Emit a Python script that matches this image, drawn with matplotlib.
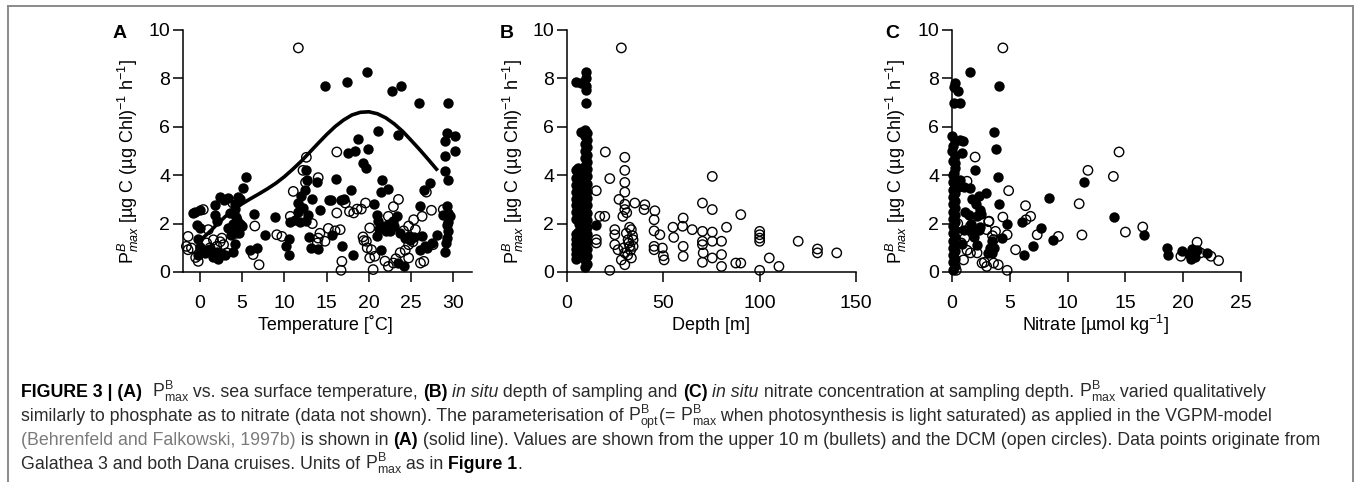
import matplotlib
matplotlib.use('Agg')
import matplotlib.pyplot as plt
from matplotlib import font_manager
from matplotlib.lines import Line2D

# ---------------- data ----------------
# Panel A: temperature (deg C) vs PBmax
temp_top = [14.8, 17.4, 19.8, 22.7, 23.8, 25.9, 29.4, 21.1, 23.4, 18.75, 17.5, 18.4, 19.9, 19.3, 19.6,
            12.6, 12.7, 13.9, 16.1, 17.9, 17.0, 15.5, 21.5, 21.4, 22.3, 14.2, 12.4, 12.0, 13.3, 11.6,
            12.2, 11.6, 12.8, 11.2, 10.7, 11.8, 12.6, 10.5, 10.2, 10.6, 12.9, 13.2, 14.0, 8.9, 7.7,
            6.4, 5.9, 6.8, 15.6, 16.8, 18.1, 20.6, 20.9, 21.1, 21.2, 20.9, 21.4, 21.9, 22.5, 22.9,
            23.3, 23.7, 24.3, 24.9, 25.3, 23.5, 24.1, 26.1, 26.5, 27.2, 26.3, 26.6, 26.1, 26.9, 28.0,
            28.8, 29.0, 29.0, 29.4, 29.3, 29.6, 29.0, 29.3, 30.2, 30.2, 29.3, 29.3, 29.0,
            5.4, 5.1, 4.5, 2.4, 2.9, 1.8, -0.6, 0.0, -0.4, 0.0, 1.8, 2.0, 3.55, 4.1, 4.3, 3.9, 3.3,
            4.3, 3.7, 4.1, 3.9, -0.2, 0.0, -0.2, 1.2, 2.0, 2.2, 3.0, 4.8, 4.6, 4.7, 4.2, 1.5, 2.6,
            0.6, 3.3, 4.4, 5.0, -0.8, 1.0, 22.4, 23.0, 24.8, 27.5, 29.4, 29.4, 29.4, 29.1, 15.3, 16.7, 22.0]
pmax_top = [7.67, 7.84, 8.25, 7.49, 7.70, 7.00, 7.00, 5.81, 5.65, 5.50, 4.92, 5.00, 5.10, 4.50, 4.30,
            4.23, 3.80, 3.70, 3.84, 3.37, 3.00, 2.96, 3.82, 3.30, 3.43, 2.55, 3.37, 3.13, 3.00, 2.85,
            2.64, 2.50, 2.37, 2.16, 2.05, 2.05, 2.10, 1.36, 1.09, 0.72, 1.43, 0.99, 0.95, 2.27, 1.54,
            2.40, 0.92, 0.99, 1.54, 1.06, 0.72, 2.82, 2.37, 2.10, 1.78, 1.47, 0.92, 1.89, 1.68, 2.10,
            2.30, 1.61, 1.40, 1.34, 1.45, 0.37, 0.23, 2.71, 3.37, 3.68, 1.47, 1.06, 0.92, 0.99, 1.54,
            2.37, 4.78, 4.16, 3.82, 2.71, 2.33, 5.40, 5.74, 5.63, 4.99, 1.96, 1.40, 0.83,
            3.94, 3.46, 3.09, 3.09, 2.97, 2.77, 2.49, 2.58, 1.94, 1.80, 2.36, 2.09, 2.42, 2.62, 2.29, 2.00, 1.80,
            1.85, 1.51, 1.17, 0.83, 1.38, 1.03, 0.69, 0.96, 0.83, 0.55, 0.69, 2.00, 1.60, 3.00, 2.80, 0.60, 0.75,
            0.80, 3.05, 2.15, 1.90, 2.45, 0.90, 2.00, 1.90, 1.50, 1.20, 2.05, 2.45, 1.70, 1.20, 2.98, 2.98, 1.70]

temp_dcm = [11.65, 16.2, 12.6, 12.2, 11.05, 12.5, 14.0, 13.3, 16.2, 17.2, 18.2, 19.1, 19.6, 22.9, 23.5,
            26.3, 26.8, 16.0, 16.6, 14.2, 14.0, 13.9, 14.8, 9.1, 9.7, 10.7, 6.5, 6.3, 7.0, 16.8, 16.7,
            20.1, 19.7, 20.3, 20.7, 20.1, 20.5, 22.3, 22.3, 22.9, 23.7, 24.1, 24.7, 25.3, 25.5, 24.7,
            24.7, 26.1, 26.5, 27.6, 28.8, -1.4, -1.6, -1.4, -1.0, -0.2, 0.4, 1.0, 1.6, 2.0, 2.6, 2.8,
            3.2, 3.9, 4.3, 4.5, 1.2, 0.2, -0.5, 2.4, 0.8, 18.6, 17.7, 19.3, 19.4, 19.8, 21.9, 23.2,
            24.3, 25.2, 27.4, 15.2]
pmax_dcm = [9.26, 4.96, 4.74, 4.20, 3.33, 3.70, 3.90, 2.00, 2.44, 2.85, 2.44, 2.60, 2.85, 2.70, 3.00,
            2.30, 3.30, 1.70, 1.75, 1.60, 1.40, 1.20, 1.27, 1.54, 1.47, 2.30, 1.90, 0.72, 0.30, 0.44, 0.07,
            1.82, 1.27, 0.92, 0.65, 0.58, 0.10, 2.30, 0.23, 0.37, 0.80, 1.70, 1.90, 2.16, 1.75, 1.13,
            0.58, 0.37, 0.44, 1.13, 2.58, 1.47, 1.06, 0.92, 0.99, 0.44, 2.58, 1.75, 1.33, 1.06, 1.40, 1.13,
            0.79, 2.85, 1.60, 1.70, 1.00, 0.90, 0.60, 1.25, 1.20, 2.60, 2.50, 1.45, 1.30, 1.00, 0.45, 0.55,
            0.90, 1.25, 2.55, 1.80]

# VGPM P_opt curve
curve_temp = [0, 1, 2, 3, 4, 5, 6, 7, 8, 9, 10, 11, 12, 13, 14, 15, 16, 17, 18, 19, 20,
              21, 22, 23, 24, 25, 26, 27, 28]
curve_popt = [1.30, 1.61, 1.96, 2.29, 2.58, 2.82, 3.03, 3.23, 3.44, 3.67, 3.94, 4.25, 4.58, 4.95,
              5.32, 5.68, 6.01, 6.28, 6.49, 6.60, 6.62, 6.54, 6.37, 6.12, 5.81, 5.44, 5.06, 4.66, 4.25]

# Panel B: depth (m) vs PBmax
depth_top = [4.5, 5.5, 4.5, 5.5, 4.5, 5.5, 4.5, 5.5, 4.5, 5.5, 4.5, 5.5, 4.5, 5.5, 4.5, 5.5, 4.5, 5.5,
             4.5, 5.5, 4.5, 5.5, 4.5, 5.5, 4.5, 5.5, 4.5, 5.5, 4.5,
             9.5, 10.5, 9.5, 10.5, 9.5, 10.5, 9.5, 10.5, 9.5, 10.5, 9.5, 10.5, 9.5, 10.5, 9.5, 10.5,
             9.5, 10.5, 9.5, 10.5, 9.5, 10.5, 9.5, 10.5, 9.5, 10.5, 9.5, 10.5, 9.5, 10.5, 9.5, 10.5,
             9.5, 10.5, 9.5, 10.5, 9.5, 10.5, 9.5, 10.0, 10.0, 10.0, 10.0, 10.0,
             7.5, 7.1, 15.2, 8.0, 7.0, 6.0]
pmax_b_top = [0.55, 0.65, 0.75, 0.85, 0.95, 1.05, 1.15, 1.25, 1.35, 1.45, 1.55, 1.65, 2.20, 2.35, 2.50,
              2.60, 2.75, 2.90, 3.00, 3.15, 3.30, 3.45, 3.60, 3.75, 3.90, 4.05, 4.20, 4.30, 7.85,
              0.20, 0.35, 0.50, 0.65, 0.80, 0.95, 1.10, 1.25, 1.40, 1.55, 1.70, 1.85, 2.00, 2.15, 2.30,
              2.45, 2.60, 2.75, 2.90, 3.05, 3.20, 3.35, 3.50, 3.65, 3.80, 3.95, 4.10, 4.25, 4.40, 4.55,
              4.70, 4.85, 5.00, 5.15, 5.30, 5.45, 5.60, 5.75, 5.85, 7.00, 7.50, 7.70, 8.00, 8.25,
              5.80, 7.80, 1.96, 1.50, 3.00, 2.00]

depth_dcm = [28.2, 19.9, 22.2, 15.2, 30, 30, 30, 30, 27, 30, 35.2, 40.4, 40, 45.6, 45.2, 45.2, 48.2,
             45.2, 45.2, 49.5, 50, 50.4, 55, 55.4, 60.3, 60, 60.3, 60.3, 65, 70.3, 70.3, 70.3, 70.3,
             70.7, 70.3, 75.4, 75.4, 75.4, 75.4, 75.4, 80.2, 80.2, 80.2, 82.8, 87.6, 90.2, 90.2, 100,
             100, 100, 100, 100, 105, 110, 120, 130, 130, 140, 22.2, 15.2, 15.2, 17, 19.6, 24.8, 24.8,
             24.8, 26.5, 29, 30, 30.8, 31.7, 32.6, 33.4, 34.3, 30, 30, 33.4, 34.3, 28.2, 31, 32, 33,
             29.5, 31.5, 34, 32.5]
pmax_b_dcm = [9.26, 4.96, 3.86, 3.36, 4.74, 4.20, 3.70, 3.30, 3.00, 2.80, 2.85, 2.78, 2.58, 2.53, 2.16,
              1.70, 1.54, 1.06, 0.92, 0.99, 0.67, 0.50, 1.85, 1.43, 2.23, 1.89, 1.06, 0.65, 1.75, 2.85,
              1.68, 1.27, 1.13, 0.79, 0.40, 3.95, 2.58, 1.65, 1.27, 0.58, 1.27, 0.72, 0.23, 1.85, 0.37,
              0.37, 2.37, 1.68, 1.54, 1.40, 1.27, 0.07, 0.58, 0.23, 1.27, 0.95, 0.79, 0.79, 0.07, 1.34,
              1.20, 2.30, 2.30, 1.75, 1.54, 1.13, 0.92, 2.30, 2.58, 1.60, 1.33, 1.06, 1.75, 1.33, 0.79,
              0.30, 0.58, 1.06, 0.50, 2.45, 1.20, 0.90, 1.00, 0.70, 1.50, 1.85]

# Panel C: nitrate (umol/kg) vs PBmax
nitrate_top = [0.3, 0.15, 0.5, 0.2, 0.66, 1.6, 4.05, 3.67, 3.84, 4.0, 4.1, 4.3, 4.8, 6.07, 6.27, 7.0,
               7.66, 8.4, 8.76, 11.4, 14.0, 16.6, 18.6, 18.7, 19.9, 20.5, 20.8, 21.0, 20.7, 21.2, 22.1,
               0.0, 0.7, 0.95, 0.0, 0.87, 0.3, 0.15, 2.0, 0.72, 1.6, 1.73, 2.3, 2.9, 2.46, 1.16, 2.17,
               1.45, 1.88, 2.3, 3.3, 3.6, 3.5, 0.5, 1.0, 2.1, 2.5, 1.5, 1.65, 2.4, 1.0, 1.9, 2.2, 0.9,
               3.1, 3.5,
               0.1, 0.3, 0.1, 0.3, 0.1, 0.3, 0.1, 0.3, 0.1, 0.3, 0.1, 0.3, 0.1, 0.3, 0.1, 0.3,
               0.1, 0.3, 0.1, 0.3, 0.1, 0.3, 0.1, 0.3, 0.1, 0.3, 0.1, 0.3, 0.1, 0.3, 0.1, 0.3]
pmax_c_top = [7.81, 7.64, 7.47, 7.00, 7.00, 8.25, 7.67, 5.77, 5.08, 3.93, 2.82, 1.40, 2.00, 2.05, 0.72,
              1.06, 1.82, 3.06, 1.34, 3.70, 2.27, 1.52, 0.99, 0.72, 0.85, 0.75, 0.95, 0.60, 0.55, 0.90,
              0.79, 5.60, 5.47, 5.40, 5.00, 4.92, 4.50, 4.10, 4.20, 3.80, 3.47, 3.00, 3.13, 3.27, 2.58,
              2.50, 2.30, 1.75, 1.60, 1.75, 0.99, 0.99, 1.30, 3.50, 3.50, 2.81, 2.40, 2.34, 2.00, 1.86,
              1.73, 1.45, 1.10, 1.16, 0.77, 0.77,
              0.10, 0.25, 0.40, 0.55, 0.70, 0.85, 1.00, 1.15, 1.30, 1.45, 1.60, 1.75, 1.90, 2.05, 2.20,
              2.35, 2.50, 2.65, 2.80, 2.95, 3.10, 3.25, 3.40, 3.55, 3.70, 3.85, 4.00, 4.30, 4.60, 4.80,
              5.20, 5.40]

nitrate_dcm = [4.4, 2.0, 14.45, 11.76, 13.96, 4.9, 11.0, 6.36, 6.8, 6.4, 4.4, 3.2, 3.0, 3.76, 4.77,
               7.37, 9.2, 11.24, 15.0, 16.5, 5.5, 3.6, 1.0, 1.6, 2.17, 2.6, 3.0, 3.6, 4.0, 4.77, 0.37,
               19.8, 21.2, 21.5, 22.4, 23.06, 1.3, 3.17, 3.5, 2.8, 1.6, 0.8, 1.3, 0.5, 1.1]
pmax_c_dcm = [9.26, 4.75, 4.96, 4.20, 3.95, 3.36, 2.82, 2.74, 2.30, 2.16, 2.27, 2.10, 1.75, 1.68, 1.54,
              1.54, 1.47, 1.53, 1.65, 1.86, 0.92, 1.34, 0.50, 0.79, 0.79, 0.37, 0.23, 0.37, 0.30, 0.07,
              0.07, 0.65, 1.23, 0.79, 0.65, 0.47, 3.75, 2.08, 1.50, 0.40, 1.90, 1.20, 0.90, 2.00, 1.40]

yticks = [0, 2, 4, 6, 8, 10]
xticks_a = [0, 5, 10, 15, 20, 25, 30]
xticks_b = [0, 50, 100, 150]
xticks_c = [0, 5, 10, 15, 20, 25]

# ---------------- fonts ----------------
def has_font(name):
    try:
        font_manager.findfont(font_manager.FontProperties(family=name), fallback_to_default=False)
        return True
    except Exception:
        return False

SANS = 'Liberation Sans' if has_font('Liberation Sans') else 'DejaVu Sans'
NARROW = 'Liberation Sans Narrow' if has_font('Liberation Sans Narrow') else SANS
NARROW_OK = NARROW != SANS

plt.rcParams['font.family'] = [SANS, 'DejaVu Sans']
plt.rcParams['mathtext.fontset'] = 'custom'
plt.rcParams['mathtext.rm'] = SANS
plt.rcParams['mathtext.it'] = SANS + ':italic'
plt.rcParams['mathtext.bf'] = SANS + ':bold'

W, H = 1360, 482
fig = plt.figure(figsize=(W / 100, H / 100), dpi=100)


def px_axes(l, r, t, b):
    return fig.add_axes([l / W, 1 - b / H, (r - l) / W, (b - t) / H])


def style_axes(ax, xlim, xticks):
    ax.set_xlim(*xlim)
    ax.set_ylim(0, 10)
    ax.set_xticks(xticks)
    ax.set_yticks(yticks)
    for s in ['top', 'right']:
        ax.spines[s].set_visible(False)
    for s in ['left', 'bottom']:
        ax.spines[s].set_linewidth(1.1)
    ax.tick_params(axis='both', direction='out', length=7.2, width=1.1, labelsize=14)
    ax.tick_params(axis='x', pad=9)
    ax.tick_params(axis='y', pad=2)
    ax.patch.set_alpha(0)


def scatter_pair(ax, xt, yt, xd, yd):
    ax.scatter(xt, yt, s=56, c='black', linewidths=0, zorder=3, clip_on=False)
    ax.scatter(xd, yd, s=46, facecolors='none', edgecolors='black', linewidths=1.0,
               zorder=4, clip_on=False)


axA = px_axes(183, 472, 30, 272)
style_axes(axA, (-2, 32.2), xticks_a)
scatter_pair(axA, temp_top, pmax_top, temp_dcm, pmax_dcm)
axA.plot(curve_temp, curve_popt, color='black', lw=2.6, solid_joinstyle='round', zorder=5)

axB = px_axes(567, 856, 30, 272)
style_axes(axB, (0, 150), xticks_b)
scatter_pair(axB, depth_top, pmax_b_top, depth_dcm, pmax_b_dcm)

axC = px_axes(952, 1241, 30, 272)
style_axes(axC, (0, 25), xticks_c)
scatter_pair(axC, nitrate_top, pmax_c_top, nitrate_dcm, pmax_c_dcm)

ylab = r'P$^{B}_{max}$ [µg C (µg Chl)$^{-1}$ h$^{-1}$]'
for xl, xc, letter, lx, xlab in [(128, 325, 'A', 120, 'Temperature [˚C]'),
                                 (513, 711, 'B', 507, 'Depth [m]'),
                                 (896, 1096, 'C', 892, r'Nitrate [µmol kg$^{-1}$]')]:
    fig.text(xl / W, 1 - 161 / H, ylab, rotation=90, ha='center', va='center', fontsize=13)
    fig.text(lx / W, 1 - 34 / H, letter, ha='center', va='center', fontsize=14, fontweight='bold')
    fig.text(xc / W, 1 - 325 / H, xlab, ha='center', va='center', fontsize=13,
             family=[NARROW, 'DejaVu Sans'])

# ---------------- caption ----------------
renderer = fig.canvas.get_renderer()
CAP_FS = 15.2 if NARROW_OK else 12.8
TXT = '#2a2a2a'
reg = dict(family=[NARROW, 'DejaVu Sans'], color=TXT)
bold = dict(family=[NARROW, 'DejaVu Sans'], color='black', fontweight='bold')
ital = dict(family=[NARROW, 'DejaVu Sans'], color=TXT, style='italic')
gray = dict(family=[NARROW, 'DejaVu Sans'], color='#7a7a7a')
PMAX = r'P$^{\mathrm{B}}_{\mathrm{max}}$'
POPT = r'P$^{\mathrm{B}}_{\mathrm{opt}}$'

caption_lines = [
    [('FIGURE 3 | (A)', bold), ('  ', reg), (PMAX, reg), (' vs. sea surface temperature, ', reg),
     ('(B)', bold), (' ', reg), ('in situ', ital), (' depth of sampling and ', reg), ('(C)', bold),
     (' ', reg), ('in situ', ital), (' nitrate concentration at sampling depth. ', reg), (PMAX, reg),
     (' varied qualitatively', reg)],
    [('similarly to phosphate as to nitrate (data not shown). The parameterisation of ', reg),
     (POPT, reg), ('(= ', reg), (PMAX, reg),
     (' when photosynthesis is light saturated) as applied in the VGPM-model', reg)],
    [('(Behrenfeld and Falkowski, 1997b)', gray), (' is shown in ', reg), ('(A)', bold),
     (' (solid line). Values are shown from the upper 10 m (bullets) and the DCM (open circles). '
      'Data points originate from', reg)],
    [('Galathea 3 and both Dana cruises. Units of ', reg), (PMAX, reg), (' as in ', reg),
     ('Figure 1', bold), ('.', reg)],
]
baselines = [397, 421, 445, 469]


def text_width(s, kw):
    t = fig.text(0, 0, s + '|', fontsize=CAP_FS, **kw)
    w1 = t.get_window_extent(renderer).width
    t.set_text('|')
    w2 = t.get_window_extent(renderer).width
    t.remove()
    return w1 - w2


for pieces, yb in zip(caption_lines, baselines):
    x = 21.0
    for s, kw in pieces:
        if s.strip():
            fig.text(x / W, 1 - yb / H, s, fontsize=CAP_FS, va='baseline', ha='left', **kw)
        x += text_width(s, kw)

# ---------------- frame ----------------
fc = '#8a8a8a'
fig.add_artist(Line2D([8 / W, 8 / W], [0, 1 - 6 / H], color=fc, lw=1.4, transform=fig.transFigure))
fig.add_artist(Line2D([8 / W, 1353 / W], [1 - 6 / H, 1 - 6 / H], color=fc, lw=1.4,
                      transform=fig.transFigure))
fig.add_artist(Line2D([1353 / W, 1353 / W], [0, 1 - 6 / H], color=fc, lw=1.4,
                      transform=fig.transFigure))

fig.savefig('out.png', dpi=100)
